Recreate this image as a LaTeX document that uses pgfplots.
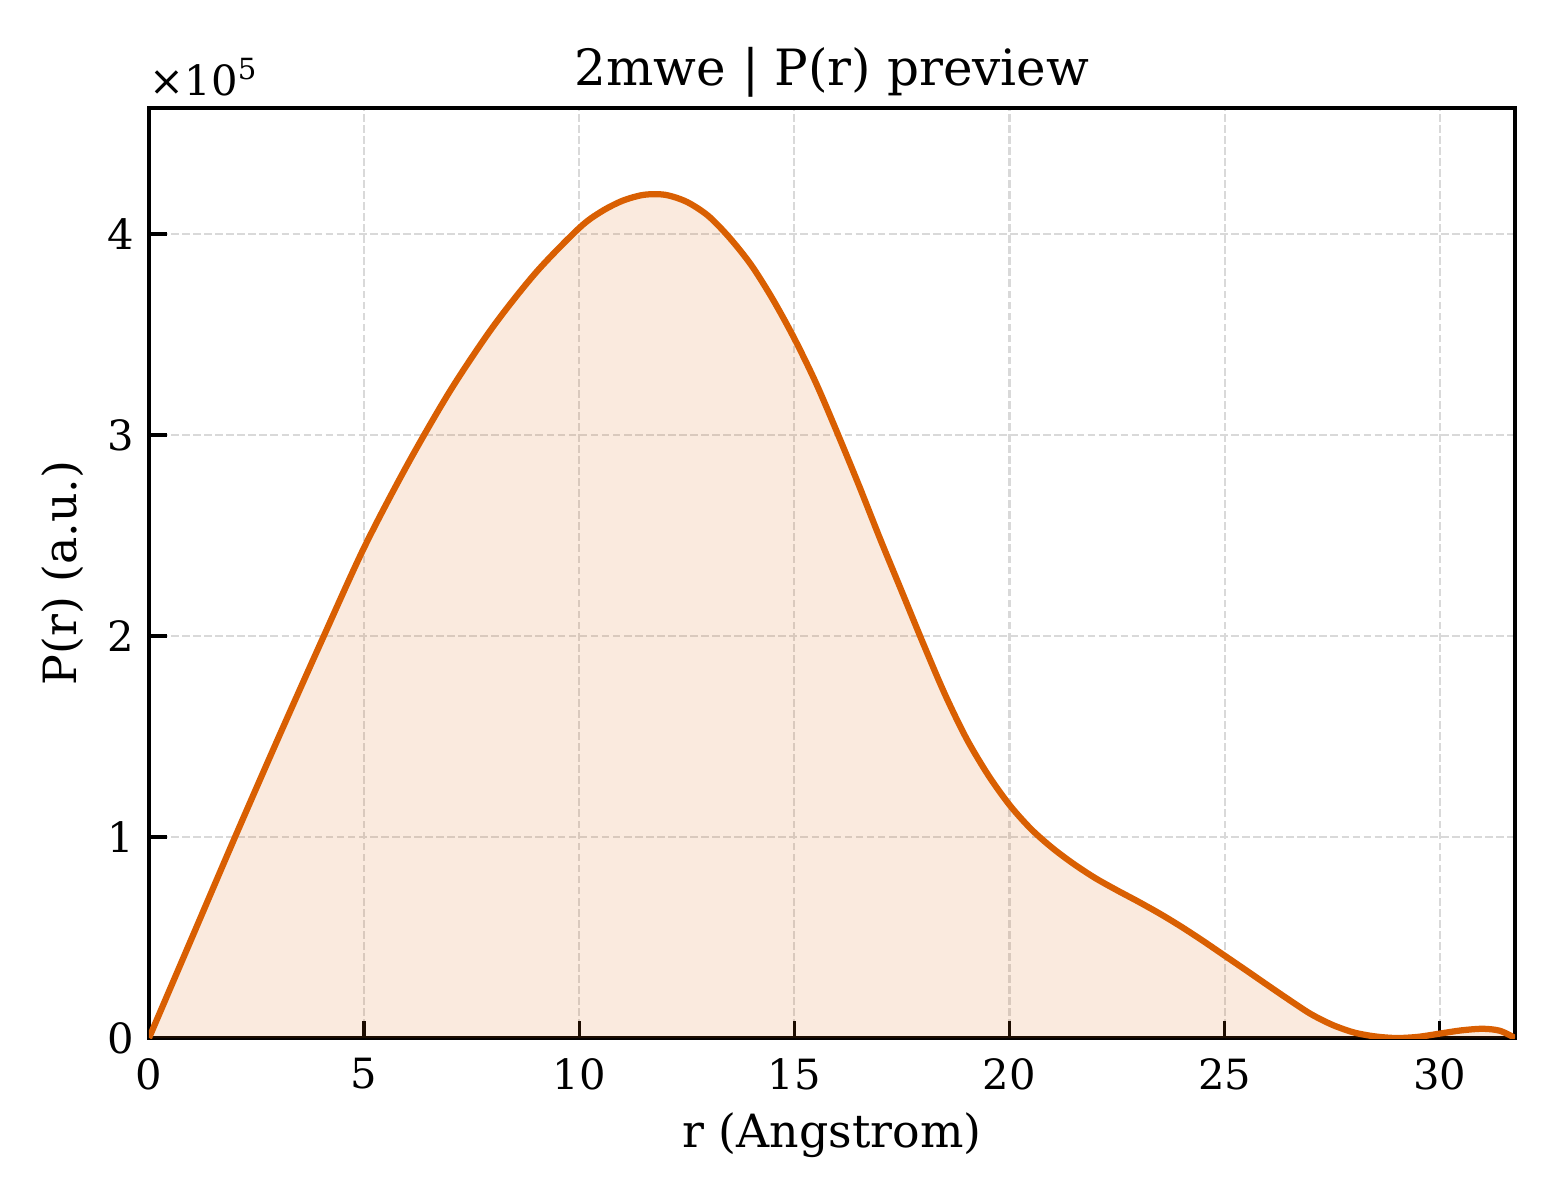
\documentclass[border=0pt]{standalone}
\usepackage{fontspec}
\setmainfont{DejaVu Serif}
\usepackage{pgfplots}
\usepackage{pgfplotstable}
\pgfplotsset{compat=1.18}
\definecolor{pr}{RGB}{217,95,2}
\pgfplotstableread{
x y
0 0
1 50000
2 100000
3 149000
4 197000
5 244000
6 285000
7 322000
8 354000
9 381000
10 403000
10.5 411000
11 416500
11.5 419500
12 419500
12.5 416000
13 409000
13.5 398000
14 384500
14.5 367500
15 348000
15.5 326000
16 301000
16.5 275000
17 248000
17.5 222000
18 196000
18.5 171000
19 149000
19.5 131000
20 116000
20.5 104000
21 94500
21.5 86500
22 79500
22.5 73500
23 67800
23.5 61800
24 55300
24.5 48300
25 41000
25.5 33700
26 26300
26.5 19000
27 12000
27.5 6600
28 2800
28.5 800
29 0
29.5 600
30 2200
30.5 3800
31 4600
31.4 3600
31.75 0
}\prdata
\begin{document}
\begin{tikzpicture}
\begin{axis}[
  name=ax,
  scale only axis,
  width=327.84pt, height=223.2pt,
  xmin=0, xmax=31.75, ymin=0, ymax=462700,
  xtick={0,5,10,15,20,25,30},
  ytick={0,100000,200000,300000,400000},
  scaled y ticks=base 10:-5,
  ytick scale label code/.code={},
  /pgf/number format/assume math mode=true,
  ticklabel style={font=\fontsize{10}{12}\selectfont},
  xticklabel style={yshift=-1.4pt},
  tick align=inside,
  tick pos=left,
  major tick length=4.2pt,
  every tick/.style={black, line width=0.8pt},
  axis line style={line width=1pt},
  grid=major,
  major grid style={line width=0.5pt, color=black!15, dash pattern=on 1.85pt off 0.8pt},
  xlabel={r (Angstrom)},
  ylabel={P(r) (a.u.)},
  title={2mwe | P(r) preview},
  every axis x label/.style={at={(rel axis cs:0.5,0)}, anchor=north, inner sep=0pt, yshift=-17.8pt, font=\fontsize{11}{13}\selectfont},
  every axis y label/.style={at={(rel axis cs:0,0.5)}, xshift=-15.4pt, rotate=90, anchor=south, inner sep=0pt, font=\fontsize{11}{13}\selectfont},
  every axis title/.style={at={(rel axis cs:0.5,1)}, anchor=base, inner sep=0pt, yshift=5.5pt, font=\fontsize{12}{14}\selectfont},
]
\addplot[draw=none, fill=pr, fill opacity=0.13, smooth, tension=0.5] table {\prdata} \closedcycle;
\addplot[draw=pr, line width=1.5pt, smooth, tension=0.5] table {\prdata};
\end{axis}
\node[anchor=base west, inner sep=0pt, font=\fontsize{10}{12}\selectfont] at ([xshift=0pt,yshift=3.1pt]ax.north west) {×10\textsuperscript{5}};
\pgfresetboundingbox
\path[use as bounding box] ([xshift=-35.76pt,yshift=-38.88pt]ax.south west) rectangle ([xshift=10.8pt,yshift=25.92pt]ax.north east);
\end{tikzpicture}
\end{document}
